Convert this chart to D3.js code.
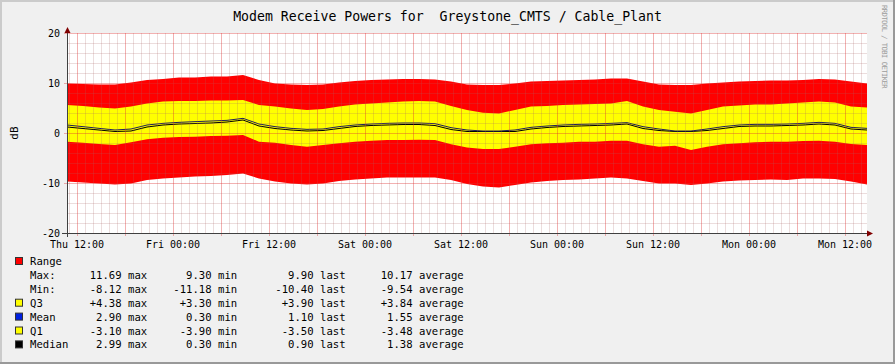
<!DOCTYPE html>
<html>
<head>
<meta charset="utf-8">
<script src="https://cdn.jsdelivr.net/npm/d3@7"></script>
<style>
	body { margin: 0; background: #f0f0f0; }
	text { font-family: "DejaVu Sans Mono", monospace; white-space: pre; }
</style>
</head>
<body>
<svg id="chart" width="895" height="364"></svg>
<script>

// start of the graph, then sample offsets in hours
const START = "2008-01-03T10:45:00Z";
const SPAN_HOURS = 100;
const HOURS = [0, 2, 4, 6, 8, 10, 12, 14, 16, 18, 20, 22, 24, 26, 28, 30, 32, 34, 36, 38, 40,
	42, 44, 46, 48, 50, 52, 54, 56, 58, 60, 62, 64, 66, 68, 70, 72, 74, 76, 78, 80,
	82, 84, 86, 88, 90, 92, 94, 96, 98, 100];

const RANGE_MAX = [9.9, 9.8, 9.7, 9.7, 10.1, 10.6, 10.8, 11.1, 11.1, 11.3, 11.3, 11.6, 10.6,
	9.9, 9.7, 9.6, 9.7, 10.1, 10.4, 10.6, 10.7, 10.8, 10.8, 10.7, 10.3, 9.7,
	9.6, 9.6, 9.9, 10.3, 10.4, 10.5, 10.6, 10.7, 10.9, 10.9, 10.3, 9.7,
	9.6, 9.6, 9.9, 10.1, 10.3, 10.4, 10.5, 10.5, 10.6, 10.8, 10.7, 10.3, 9.9];
const Q3 = [5.6, 5.4, 5.1, 4.9, 5.3, 5.9, 6.3, 6.4, 6.4, 6.5, 6.5, 6.6, 5.6,
	5.3, 4.9, 4.6, 4.8, 5.3, 5.7, 5.9, 6.1, 6.3, 6.4, 6.3, 5.4, 4.6,
	4.07, 3.9, 4.6, 5.3, 5.4, 5.6, 5.7, 5.8, 5.9, 6.4, 5.3, 4.6,
	4.27, 3.9, 4.6, 5.3, 5.5, 5.7, 5.7, 5.9, 6.1, 6.3, 6.1, 5.3, 5.1];
const MEAN = [1.6, 1.27, 0.93, 0.6, 0.8, 1.6, 1.93, 2.13, 2.27, 2.4, 2.53, 2.93, 1.8,
	1.27, 0.93, 0.73, 0.8, 1.27, 1.6, 1.8, 1.93, 2.0, 2.0, 1.87, 1.07, 0.6,
	0.4, 0.4, 0.6, 1.13, 1.4, 1.6, 1.73, 1.8, 1.93, 2.07, 1.27, 0.8,
	0.4, 0.4, 0.8, 1.27, 1.6, 1.73, 1.73, 1.8, 1.93, 2.13, 1.93, 1.13, 0.93];
const MEDIAN = [1.2, 0.9, 0.6, 0.3, 0.4, 1.2, 1.6, 1.8, 1.9, 2.0, 2.2, 2.6, 1.4,
	0.9, 0.6, 0.4, 0.5, 0.9, 1.3, 1.5, 1.6, 1.7, 1.7, 1.5, 0.7, 0.3,
	0.3, 0.3, 0.3, 0.8, 1.1, 1.3, 1.4, 1.5, 1.6, 1.8, 0.9, 0.5,
	0.3, 0.3, 0.5, 0.9, 1.3, 1.4, 1.4, 1.5, 1.6, 1.8, 1.6, 0.8, 0.6];
const Q1 = [-1.73, -1.93, -2.2, -2.4, -1.87, -1.27, -0.93, -0.8, -0.73, -0.6, -0.53, -0.4, -1.73,
	-1.93, -2.4, -2.73, -2.4, -2.07, -1.73, -1.53, -1.4, -1.4, -1.33, -1.4, -2.27, -2.9,
	-3.2, -3.2, -2.73, -2.27, -2.07, -1.93, -1.73, -1.73, -1.53, -1.53, -2.27, -2.73,
	-2.53, -3.4, -2.73, -2.27, -2.07, -1.87, -1.73, -1.73, -1.6, -1.53, -1.73, -2.2, -2.4];
const RANGE_MIN = [-9.7, -9.9, -10.1, -10.3, -10.1, -9.4, -9.1, -8.9, -8.7, -8.6, -8.4, -8.1, -9.1,
	-9.7, -10.1, -10.3, -10.1, -9.6, -9.3, -9.1, -8.9, -8.9, -8.9, -8.9, -9.4, -10.2,
	-10.7, -10.9, -10.4, -9.9, -9.6, -9.4, -9.3, -9.1, -8.9, -9.1, -9.6, -10.1,
	-10.1, -10.4, -10.1, -9.7, -9.5, -9.4, -9.3, -9.4, -9.1, -9.1, -9.2, -9.7, -10.3];

const Y_TICKS = [-20, -10, 0, 10, 20];

// legend table
const LEGEND_LABELS = ["Max:", "Min:", "Q3", "Mean", "Q1", "Median"];
const LEGEND_BOX = [null, null, "#ffff00", "#0020e0", "#ffff00", "#000000"];
const COL_UNITS = ["max", "min", "last", "average"];
const COL_MAX = ["11.69", "-8.12", "+4.38", "2.90", "-3.10", "2.99"];
const COL_MIN = ["9.30", "-11.18", "+3.30", "0.30", "-3.90", "0.30"];
const COL_LAST = ["9.90", "-10.40", "+3.90", "1.10", "-3.50", "0.90"];
const COL_AVG = ["10.17", "-9.54", "+3.84", "1.55", "-3.48", "1.38"];

const TITLE = "Modem Receive Powers for  Greystone_CMTS / Cable_Plant";

const W = 895, H = 364;
const PLOT = { left: 67, right: 867, top: 33, bottom: 233 };

const svg = d3.select("#chart");

// background and the 3d border
svg.append("rect").attr("width", W).attr("height", H).attr("fill", "#f0f0f0");
svg.append("path").attr("d", `M0,${H} V0 H${W}`).attr("fill", "none")
	.attr("stroke", "#cbcbcb").attr("stroke-width", 4);
svg.append("path").attr("d", `M0,${H} H${W} V0`).attr("fill", "none")
	.attr("stroke", "#999999").attr("stroke-width", 4);

const t0 = new Date(START);
const t1 = d3.utcHour.offset(t0, SPAN_HOURS);
const data = HOURS.map((h, i) => ({
	t: d3.utcMinute.offset(t0, h * 60),
	max: RANGE_MAX[i], min: RANGE_MIN[i],
	q3: Q3[i], q1: Q1[i], mean: MEAN[i], median: MEDIAN[i]
}));

const x = d3.scaleUtc().domain([t0, t1]).range([PLOT.left, PLOT.right]);
const y = d3.scaleLinear().domain([-20, 20]).range([PLOT.bottom, PLOT.top]);

svg.append("rect")
	.attr("x", PLOT.left).attr("y", PLOT.top)
	.attr("width", PLOT.right - PLOT.left).attr("height", PLOT.bottom - PLOT.top)
	.attr("fill", "#ffffff");

// bands
svg.append("path").datum(data)
	.attr("fill", "#ff0000")
	.attr("d", d3.area().x(d => x(d.t)).y0(d => y(d.min)).y1(d => y(d.max)));
svg.append("path").datum(data)
	.attr("fill", "#ffff00")
	.attr("d", d3.area().x(d => x(d.t)).y0(d => y(d.q1)).y1(d => y(d.q3)));

svg.append("path").datum(data)
	.attr("fill", "none").attr("stroke", "#000000").attr("stroke-width", 1)
	.attr("d", d3.line().x(d => x(d.t)).y(d => y(d.median)));
svg.append("path").datum(data)
	.attr("fill", "none").attr("stroke", "#20205a").attr("stroke-width", 1)
	.attr("d", d3.line().x(d => x(d.t)).y(d => y(d.mean)));

// grid on top of the data, like rrdtool does
const grid = svg.append("g").attr("shape-rendering", "crispEdges");
const hoursAll = d3.utcHour.range(t0, t1);
const isMajorT = (t) => t.getUTCHours() % 6 === 0;
const MINOR_C = "rgba(170,100,100,0.22)", MAJOR_C = "rgba(220,50,50,0.38)";
grid.selectAll(".vminor").data(hoursAll.filter(t => !isMajorT(t))).enter().append("line")
	.attr("x1", d => Math.round(x(d)) + 0.5).attr("x2", d => Math.round(x(d)) + 0.5)
	.attr("y1", PLOT.top).attr("y2", PLOT.bottom)
	.attr("stroke", MINOR_C);
const yMinor = d3.range(-18, 20, 2).filter(v => v % 10 !== 0);
grid.selectAll(".hminor").data(yMinor).enter().append("line")
	.attr("x1", PLOT.left).attr("x2", PLOT.right)
	.attr("y1", d => Math.round(y(d)) + 0.5).attr("y2", d => Math.round(y(d)) + 0.5)
	.attr("stroke", MINOR_C);
grid.selectAll(".vmajor").data(hoursAll.filter(isMajorT)).enter().append("line")
	.attr("x1", d => Math.round(x(d)) + 0.5).attr("x2", d => Math.round(x(d)) + 0.5)
	.attr("y1", PLOT.top).attr("y2", PLOT.bottom + 3)
	.attr("stroke", MAJOR_C);
grid.selectAll(".hmajor").data(Y_TICKS.filter(v => v > -20)).enter().append("line")
	.attr("x1", PLOT.left - 3).attr("x2", PLOT.right)
	.attr("y1", d => Math.round(y(d)) + 0.5).attr("y2", d => Math.round(y(d)) + 0.5)
	.attr("stroke", MAJOR_C);

// axes
const axis = svg.append("g").attr("shape-rendering", "crispEdges");
axis.append("line").attr("x1", PLOT.left - 5).attr("x2", PLOT.right + 3)
	.attr("y1", PLOT.bottom + 0.5).attr("y2", PLOT.bottom + 0.5).attr("stroke", "#404040");
axis.append("line").attr("x1", PLOT.left + 0.5).attr("x2", PLOT.left + 0.5)
	.attr("y1", PLOT.bottom + 4).attr("y2", PLOT.top - 3).attr("stroke", "#404040");
svg.append("path")
	.attr("d", `M${PLOT.right},${PLOT.bottom - 2.5} L${PLOT.right + 6},${PLOT.bottom + 0.5} L${PLOT.right},${PLOT.bottom + 3.5}Z`)
	.attr("fill", "#800000");
svg.append("path")
	.attr("d", `M${PLOT.left - 2.5},${PLOT.top} L${PLOT.left + 0.5},${PLOT.top - 6} L${PLOT.left + 3.5},${PLOT.top}Z`)
	.attr("fill", "#800000");

svg.selectAll(".ylab").data(Y_TICKS).enter().append("text")
	.attr("x", PLOT.left - 7).attr("y", d => y(d) + 3.5)
	.attr("text-anchor", "end").attr("font-size", 10).attr("fill", "#000")
	.text(d => d);

const fmt = d3.utcFormat("%a %H:%M");
svg.selectAll(".xlab").data(d3.utcHour.every(12).range(t0, t1)).enter().append("text")
	.attr("x", d => x(d)).attr("y", PLOT.bottom + 15)
	.attr("text-anchor", "middle").attr("font-size", 10).attr("fill", "#000")
	.text(d => fmt(d));

svg.append("text")
	.attr("transform", `translate(18,${(PLOT.top + PLOT.bottom) / 2}) rotate(-90)`)
	.attr("text-anchor", "middle").attr("font-size", 11).text("dB");

svg.append("text")
	.attr("x", 447.5).attr("y", 21).attr("text-anchor", "middle")
	.attr("font-size", 13.2).text(TITLE);

svg.append("text")
	.attr("transform", "translate(881.5,5) rotate(90)")
	.attr("font-size", 7.2).attr("letter-spacing", -0.55).attr("fill", "#9c9c9c")
	.text("RRDTOOL / TOBI OETIKER");

// legend
const LEG_X = 30, LEG_Y = 265, LEG_STEP = 13.9, LEG_FS = 10.6, CHAR_W = 6.38;
const UNIT_X = [128, 218, 320, 419];
const leg = svg.append("g").attr("font-size", LEG_FS);
const legendBox = (by, color) => leg.append("rect")
	.attr("x", 15.5).attr("y", by - 7.5).attr("width", 7).attr("height", 7)
	.attr("fill", color).attr("stroke", "#333").attr("stroke-width", 1);

legendBox(LEG_Y, "#ff0000");
leg.append("text").attr("x", LEG_X).attr("y", LEG_Y).text("Range");

LEGEND_LABELS.forEach((lab, i) => {
	const by = LEG_Y + (i + 1) * LEG_STEP;
	if (LEGEND_BOX[i]) legendBox(by, LEGEND_BOX[i]);
	leg.append("text").attr("x", LEG_X).attr("y", by).text(lab);
	[COL_MAX[i], COL_MIN[i], COL_LAST[i], COL_AVG[i]].forEach((v, c) => {
		leg.append("text").attr("x", UNIT_X[c] - CHAR_W).attr("y", by)
			.attr("text-anchor", "end").text(v);
		leg.append("text").attr("x", UNIT_X[c]).attr("y", by).text(COL_UNITS[c]);
	});
});
</script>
</body>
</html>
